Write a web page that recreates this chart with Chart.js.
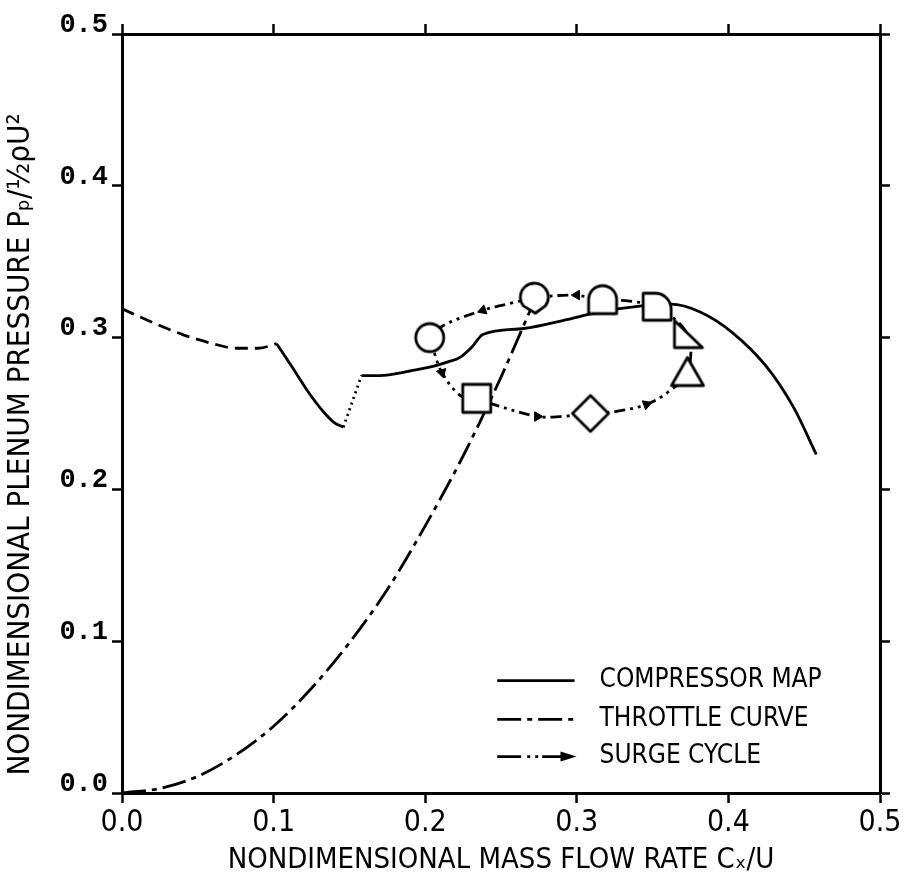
<!DOCTYPE html>
<html>
<head>
<meta charset="utf-8">
<script src="https://cdn.jsdelivr.net/npm/chart.js@4.4.1/dist/chart.umd.min.js"></script>
<style>
  html, body { margin: 0; padding: 0; background: #fff; }
  #wrap { width: 908px; height: 894px; }
</style>
</head>
<body>
<div id="wrap"><canvas id="c" width="908" height="894"></canvas></div>
<script>
// ---------- data ----------
const xTicks = [0.0, 0.1, 0.2, 0.3, 0.4, 0.5];
const yTicks = [0.0, 0.1, 0.2, 0.3, 0.4, 0.5];

const seriesNames = ['COMPRESSOR MAP', 'THROTTLE CURVE', 'SURGE CYCLE'];

// compressor map, dashed (left) part
const compDashX = [0.000, 0.020, 0.040, 0.060, 0.075, 0.090, 0.102];
const compDashY = [0.319, 0.310, 0.302, 0.296, 0.293, 0.293, 0.296];
// compressor map, solid drop
const compDropX = [0.102, 0.112, 0.123, 0.133, 0.140, 0.146];
const compDropY = [0.296, 0.281, 0.264, 0.251, 0.244, 0.241];
// compressor map, dotted jump
const compJumpX = [0.146, 0.158];
const compJumpY = [0.241, 0.275];
// compressor map, solid main branch
const compMainX = [0.158, 0.170, 0.190, 0.205, 0.215, 0.223, 0.231, 0.238, 0.265, 0.294, 0.311, 0.344, 0.362, 0.381, 0.403, 0.425, 0.443, 0.458];
const compMainY = [0.275, 0.275, 0.278, 0.281, 0.284, 0.287, 0.294, 0.302, 0.306, 0.312, 0.316, 0.321, 0.322, 0.317, 0.303, 0.281, 0.254, 0.223];

// throttle curve
const throttleX = [0.000, 0.025, 0.050, 0.075, 0.100, 0.125, 0.150, 0.175, 0.200, 0.225, 0.250, 0.271];
const throttleY = [0.000, 0.003, 0.011, 0.025, 0.044, 0.069, 0.099, 0.134, 0.176, 0.222, 0.274, 0.322];

// surge cycle loop
const surgeX = [0.203, 0.206, 0.211, 0.223, 0.234, 0.245, 0.274, 0.289, 0.309, 0.324, 0.346, 0.360, 0.373, 0.373, 0.353, 0.335, 0.317, 0.297, 0.272, 0.258, 0.238, 0.212, 0.203];
const surgeY = [0.300, 0.290, 0.277, 0.262, 0.260, 0.256, 0.248, 0.248, 0.250, 0.251, 0.256, 0.264, 0.277, 0.302, 0.320, 0.324, 0.325, 0.328, 0.326, 0.323, 0.318, 0.308, 0.300];

// surge cycle markers (circle, teardrop, half-round, quarter-round, right triangle, triangle, diamond, square)
const markerX = [0.203, 0.272, 0.317, 0.353, 0.373, 0.373, 0.309, 0.234];
const markerY = [0.300, 0.326, 0.325, 0.320, 0.302, 0.277, 0.250, 0.260];

// direction arrows along the surge cycle
const arrowX = [0.211, 0.274, 0.346, 0.300, 0.238];
const arrowY = [0.277, 0.248, 0.256, 0.328, 0.318];

// ---------- helpers ----------
const pts = (xs, ys) => xs.map((x, i) => ({ x: x, y: ys[i] }));
const NARROW = "'DejaVu Sans Condensed', 'Liberation Sans Narrow', sans-serif";
const LW = 2.8;

function makeMarker(kind) {
  const S = 46, c = S / 2;
  const cv = document.createElement('canvas');
  cv.width = S; cv.height = S;
  const g = cv.getContext('2d');
  g.lineWidth = 2.8; g.strokeStyle = '#000'; g.fillStyle = '#fff';
  g.lineJoin = 'round'; g.lineCap = 'round';
  g.beginPath();
  if (kind === 'circle') {
    g.arc(c, c, 14, 0, Math.PI * 2);
  } else if (kind === 'tear') {
    g.arc(c, c - 1, 14, Math.PI * 0.78, Math.PI * 2.22);
    g.lineTo(c + 1, c + 15);
    g.closePath();
  } else if (kind === 'half') {
    g.arc(c, c, 14, Math.PI, Math.PI * 2);
    g.lineTo(c + 14, c + 14);
    g.lineTo(c - 14, c + 14);
    g.closePath();
  } else if (kind === 'quarter') {
    g.moveTo(c - 14, c + 13);
    g.lineTo(c - 14, c - 14);
    g.lineTo(c - 2, c - 14);
    g.arc(c - 2, c + 2, 16, Math.PI * 1.5, Math.PI * 2);
    g.lineTo(c + 14, c + 13);
    g.closePath();
  } else if (kind === 'rtri') {
    g.moveTo(c - 13, c - 14);
    g.lineTo(c - 13, c + 13);
    g.lineTo(c + 15, c + 13);
    g.closePath();
  } else if (kind === 'tri') {
    g.moveTo(c, c - 15);
    g.lineTo(c + 16, c + 13);
    g.lineTo(c - 16, c + 13);
    g.closePath();
  } else if (kind === 'diamond') {
    g.moveTo(c, c - 18);
    g.lineTo(c + 18, c);
    g.lineTo(c, c + 18);
    g.lineTo(c - 18, c);
    g.closePath();
  } else if (kind === 'square') {
    g.rect(c - 14, c - 14, 28, 28);
  }
  g.fill();
  g.stroke();
  return cv;
}
const markerStyles = ['circle', 'tear', 'half', 'quarter', 'rtri', 'tri', 'diamond', 'square'].map(makeMarker);

const lineDs = (data, dash, extra) => Object.assign({
  data: data, showLine: true, borderColor: '#000', borderWidth: LW,
  borderDash: dash, pointRadius: 0, pointHoverRadius: 0, fill: false,
  cubicInterpolationMode: 'monotone', borderCapStyle: 'butt', borderJoinStyle: 'round'
}, extra || {});

const THROTTLE_DASH = [24, 6, 5, 6];
const SURGE_DASH = [11, 5, 3, 5, 3, 5];

const datasets = [
  { label: 'markers', data: pts(markerX, markerY), showLine: false, pointStyle: markerStyles, pointRadius: 14, pointHoverRadius: 14 },
  { label: 'arrows', data: pts(arrowX, arrowY), showLine: false, pointStyle: 'triangle', pointRadius: 5.5,
    pointRotation: [165, 90, 70, 270, 250], backgroundColor: '#000', borderColor: '#000', borderWidth: 1 },
  lineDs(pts(surgeX, surgeY), SURGE_DASH, { label: seriesNames[2], cubicInterpolationMode: 'default', tension: 0.35 }),
  lineDs(pts(compDashX, compDashY), [13, 7], { label: 'comp-dash' }),
  lineDs(pts(compDropX, compDropY), [], { label: 'comp-drop' }),
  lineDs(pts(compJumpX, compJumpY), [2, 4], { label: 'comp-jump' }),
  lineDs(pts(compMainX, compMainY), [], { label: seriesNames[0] }),
  lineDs(pts(throttleX, throttleY), THROTTLE_DASH, { label: seriesNames[1] })
];

// custom in-plot legend
const legendPlugin = {
  id: 'inplotLegend',
  afterDatasetsDraw(chart) {
    const { ctx, chartArea: a } = chart;
    const w = a.right - a.left, h = a.bottom - a.top;
    const x0 = a.left + 0.495 * w, x1 = a.left + 0.597 * w, xt = a.left + 0.630 * w;
    const rows = [a.top + 0.852 * h, a.top + 0.903 * h, a.top + 0.952 * h];
    const dashes = [[], THROTTLE_DASH, [24, 6, 3, 5, 3, 4]];
    ctx.save();
    ctx.strokeStyle = '#000'; ctx.fillStyle = '#000'; ctx.lineWidth = LW;
    rows.forEach((y, i) => {
      ctx.setLineDash(dashes[i]);
      ctx.beginPath();
      ctx.moveTo(x0, y);
      ctx.lineTo(i === 2 ? x1 - 8 : x1, y);
      ctx.stroke();
      if (i === 2) {
        ctx.setLineDash([]);
        ctx.beginPath();
        ctx.moveTo(x1 + 2, y);
        ctx.lineTo(x1 - 14, y - 5);
        ctx.lineTo(x1 - 14, y + 5);
        ctx.closePath();
        ctx.fill();
      }
      ctx.font = '26px ' + NARROW;
      ctx.textBaseline = 'middle';
      ctx.textAlign = 'left';
      ctx.fillText(seriesNames[i], xt, y);
    });
    ctx.restore();
  }
};

const tickGrid = { drawOnChartArea: false, drawTicks: true, tickLength: 10, tickWidth: 2.5, tickColor: '#000' };
const border = { display: true, color: '#000', width: 3 };
const PAD = '\u00a0'.repeat(7);

new Chart(document.getElementById('c'), {
  type: 'scatter',
  data: { datasets: datasets },
  plugins: [legendPlugin],
  options: {
    responsive: false,
    animation: false,
    devicePixelRatio: 1,
    layout: { padding: 0 },
    plugins: { legend: { display: false }, tooltip: { enabled: false } },
    elements: { line: { tension: 0 } },
    scales: {
      x: {
        type: 'linear', position: 'bottom', min: 0, max: 0.5,
        afterBuildTicks: s => { s.ticks = xTicks.map(v => ({ value: v })); },
        ticks: { color: '#000', padding: 2, font: { family: NARROW, size: 30 }, callback: v => v.toFixed(1), maxRotation: 0 },
        grid: tickGrid, border: border,
        title: { display: true, text: 'NONDIMENSIONAL MASS FLOW RATE Cₓ/U', color: '#000',
                 font: { family: NARROW, size: 29 }, padding: { top: 0, bottom: 16 } },
        afterFit: s => { s.height = 101; }
      },
      xTop: {
        type: 'linear', position: 'top', min: 0, max: 0.5,
        afterBuildTicks: s => { s.ticks = xTicks.map(v => ({ value: v })); },
        ticks: { display: false },
        grid: tickGrid, border: border,
        afterFit: s => { s.height = 34; }
      },
      y: {
        type: 'linear', position: 'left', min: 0, max: 0.5,
        afterBuildTicks: s => { s.ticks = yTicks.map(v => ({ value: v })); },
        ticks: { color: '#000', padding: 4, labelOffset: -9, font: { family: "'Liberation Mono', 'DejaVu Sans Mono', monospace", size: 27, weight: 'bold' }, callback: v => v.toFixed(1) },
        grid: tickGrid, border: border,
        title: { display: true, text: 'NONDIMENSIONAL PLENUM PRESSURE Pₚ/½ρU²' + PAD, color: '#000',
                 font: { family: NARROW, size: 31 }, padding: { top: 2, bottom: 0 } },
        afterFit: s => { s.width = 122; }
      },
      yRight: {
        type: 'linear', position: 'right', min: 0, max: 0.5,
        afterBuildTicks: s => { s.ticks = yTicks.map(v => ({ value: v })); },
        ticks: { display: false },
        grid: tickGrid, border: border,
        afterFit: s => { s.width = 28; }
      }
    }
  }
});
</script>
</body>
</html>
